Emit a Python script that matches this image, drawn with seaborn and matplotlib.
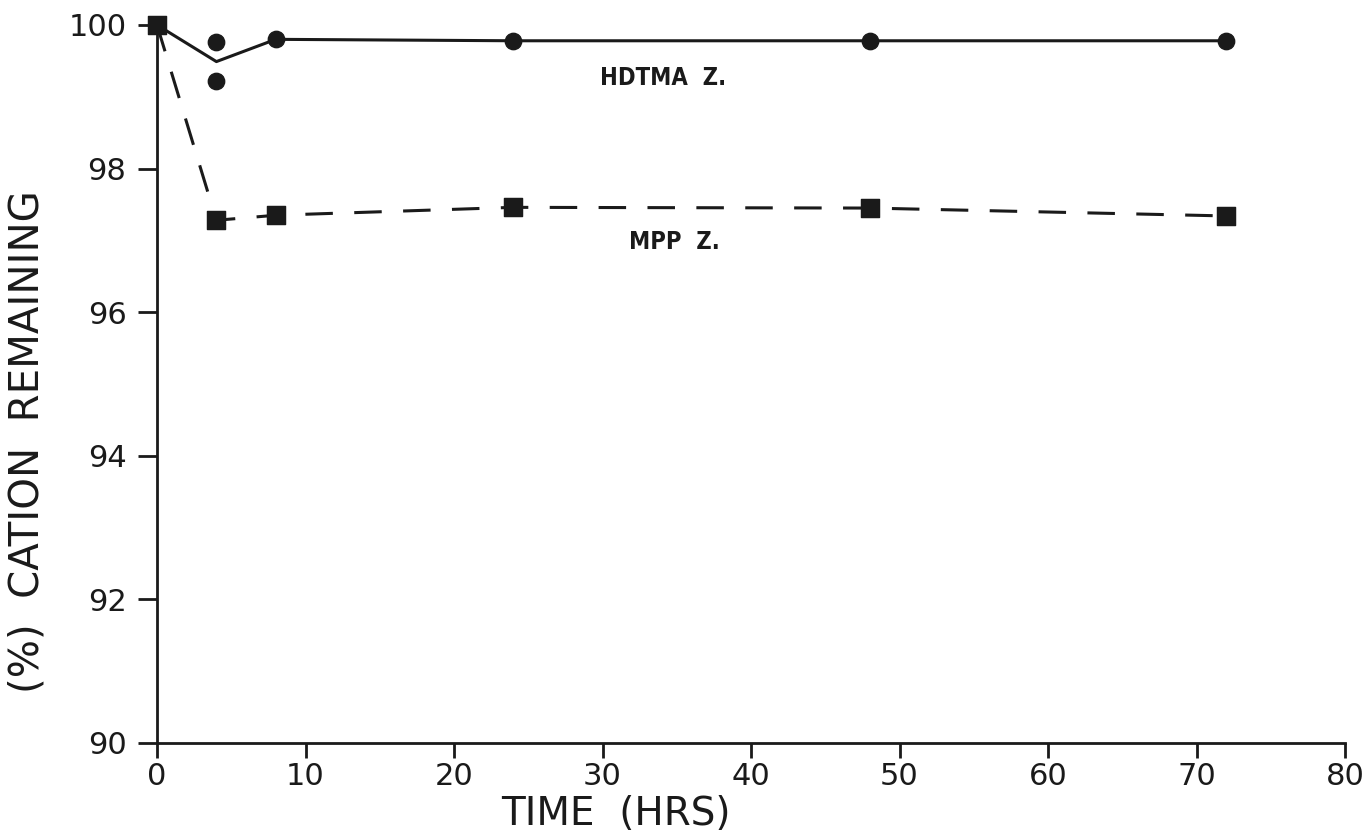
import matplotlib
matplotlib.use("Agg")
import matplotlib.pyplot as plt
import seaborn as sns
import pandas as pd

# data
hdtma_time = [0, 4, 4, 8, 24, 48, 72]
hdtma_pct = [100.0, 99.76, 99.22, 99.80, 99.78, 99.78, 99.78]
mpp_time = [0, 4, 8, 24, 48, 72]
mpp_pct = [100.0, 97.28, 97.35, 97.46, 97.45, 97.34]
x_ticks = [0, 10, 20, 30, 40, 50, 60, 70, 80]
y_ticks = [90, 92, 94, 96, 98, 100]

sns.set_theme(style="ticks")
plt.rcParams['font.family'] = ['DejaVu Sans']

hd = pd.DataFrame({"t": hdtma_time, "p": hdtma_pct})
mp = pd.DataFrame({"t": mpp_time, "p": mpp_pct})

fig = plt.figure(figsize=(13.7, 8.38), dpi=100)
ax = fig.add_axes([0.1146, 0.1134, 0.8672, 0.8568])

ink = "#1a1a1a"
sns.lineplot(data=hd, x="t", y="p", estimator="mean", errorbar=None, ax=ax,
             color=ink, linewidth=2.2, clip_on=False)
sns.scatterplot(data=hd, x="t", y="p", ax=ax, marker="o", s=140, color=ink,
                edgecolor=ink, clip_on=False, zorder=5)
sns.lineplot(data=mp, x="t", y="p", ax=ax, color=ink, linewidth=2.2,
             dashes=False, clip_on=False)
ax.lines[-1].set_dashes([9, 7])
sns.scatterplot(data=mp, x="t", y="p", ax=ax, marker="s", s=170, color=ink,
                edgecolor=ink, clip_on=False, zorder=5)

ax.set_xlim(0, 80)
ax.set_ylim(90, 100)
ax.set_xticks(x_ticks)
ax.set_yticks(y_ticks)
ax.tick_params(axis="y", direction="out", length=14, width=2, color=ink,
               labelsize=22, labelcolor=ink, pad=8)
ax.tick_params(axis="x", direction="out", length=11, width=2, color=ink,
               labelsize=22, labelcolor=ink, pad=3)
for s in ["top", "right"]:
    ax.spines[s].set_visible(False)
for s in ["left", "bottom"]:
    ax.spines[s].set_linewidth(2)
    ax.spines[s].set_color(ink)

ax.set_xlabel("TIME  (HRS)", fontsize=28, color=ink, labelpad=0)
ax.xaxis.set_label_coords(0.386, -0.072)
ax.set_ylabel("(%)  CATION  REMAINING", fontsize=29, color=ink)
ax.yaxis.set_label_coords(-0.092, 0.42)

ax.text(29.8, 99.26, "HDTMA  Z.", fontsize=17, color=ink, fontweight="bold",
        va="center", ha="left", fontstretch="condensed")
ax.text(31.8, 96.98, "MPP  Z.", fontsize=17, color=ink, fontweight="bold",
        va="center", ha="left", fontstretch="condensed")

fig.savefig("out.png", dpi=100)
